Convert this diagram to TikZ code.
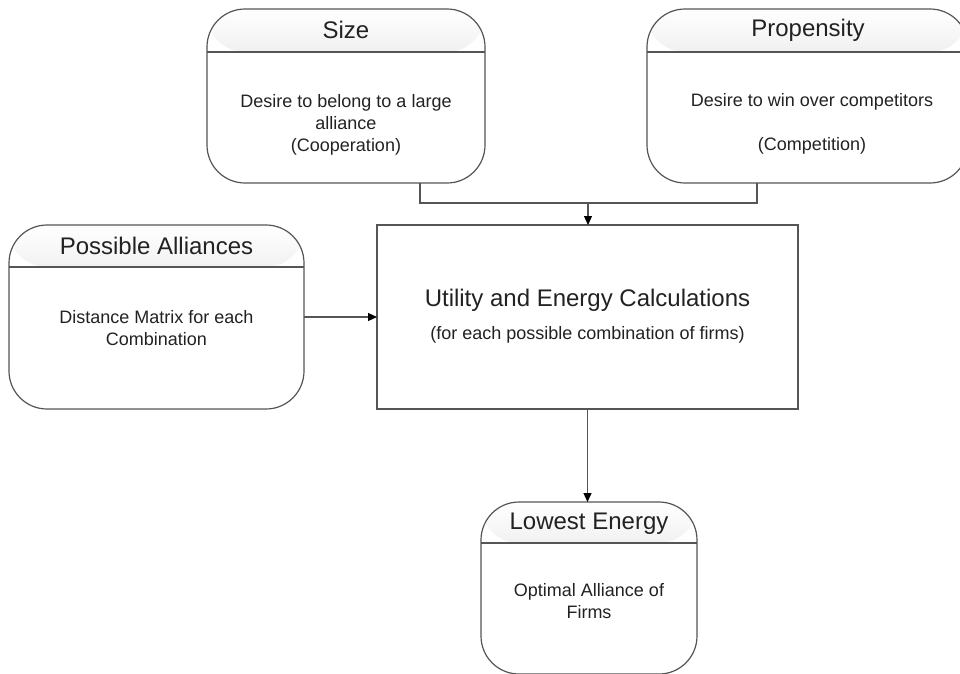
\documentclass[tikz,border=0pt]{standalone}
\usepackage{fontspec}
\setmainfont{Liberation Sans}
\usetikzlibrary{arrows.meta,calc}
\definecolor{linegray}{HTML}{555555}
\definecolor{txt}{HTML}{222222}
\definecolor{hdrtop}{HTML}{C4C4C4}
\begin{document}
\begin{tikzpicture}[x=1pt,y=-1pt,
  box/.style={draw=linegray,line width=1.2pt,rectangle,rounded corners=38pt,inner sep=0pt,outer sep=0pt,fill=white},
  hdrbox/.style={box,path picture={
      \shade[top color=white,bottom color=hdrtop]
        (path picture bounding box.north west) rectangle ([yshift=-#1]path picture bounding box.north east);
      \draw[linegray,line width=1.2pt] ([yshift=-#1]path picture bounding box.north west) -- ([yshift=-#1]path picture bounding box.north east);}},
  plainbox/.style={draw=linegray,line width=1.2pt,rectangle,inner sep=0pt,outer sep=0pt,fill=white},
  hdr/.style={text=txt,font=\fontsize{24}{28}\selectfont,inner sep=0pt},
  body/.style={text=txt,font=\fontsize{18}{22}\selectfont,align=center,inner sep=0pt},
  conn/.style={draw=linegray,line width=1.2pt},
  arr/.style={conn,-{Triangle[length=9pt,width=8pt,fill=black,color=black]}}]
\useasboundingbox (0,0) rectangle (960,673);
\fill[white] (0,0) rectangle (960,673);
% boxes
\node[hdrbox=43pt,minimum width=278pt,minimum height=174pt] (size) at (346,96) {};
\node[hdrbox=43pt,minimum width=321pt,minimum height=174pt] (prop) at (807.5,96) {};
\node[hdrbox=42pt,minimum width=295pt,minimum height=184pt] (poss) at (156.5,317) {};
\node[plainbox,minimum width=421pt,minimum height=184pt] (main) at (587.5,317) {};
\node[hdrbox=41pt,minimum width=216pt,minimum height=172pt] (low) at (589,588) {};
% texts
\node[hdr] (sizeH) at (346,30) {Size};
\node[body] (sizeB) at (346,125) {Desire to belong to a large\\alliance\\(Cooperation)};
\node[hdr] (propH) at (808,30) {Propensity};
\node[body] (propB) at (812,124) {Desire to win over competitors\\[22pt](Competition)};
\node[hdr] (possH) at (156.5,246) {Possible Alliances};
\node[body] (possB) at (156.5,328) {Distance Matrix for each\\Combination};
\node[text=txt,font=\fontsize{24}{28}\selectfont,inner sep=0pt] (mainT) at (587.5,300) {Utility and Energy Calculations};
\node[body] (mainS) at (587.5,335) {(for each possible combination of firms)};
\node[hdr] (lowH) at (589,524) {Lowest Energy};
\node[body] (lowB) at (589,601) {Optimal Alliance of\\Firms};
% connectors
\coordinate (j) at (588,203);
\draw[conn] ([xshift=74pt]size.south) |- (j) -| ([xshift=-50.5pt]prop.south);
\draw[arr] (j) -- (j |- main.north);
\draw[arr] (poss.east) -- (main.west);
\draw[arr] (main.south) -- (main.south |- low.north);
\end{tikzpicture}
\end{document}
